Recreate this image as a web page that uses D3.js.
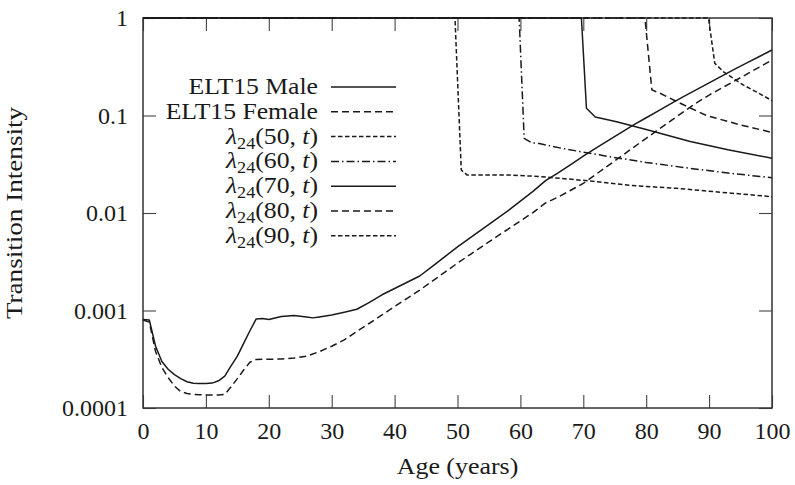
<!DOCTYPE html>
<html>
<head>
<meta charset="utf-8">
<script src="https://cdn.jsdelivr.net/npm/d3@7"></script>
<style>
  html, body { margin: 0; padding: 0; background: #fff; }
  svg { display: block; font-family: "Liberation Serif", "DejaVu Serif", serif; }
</style>
</head>
<body>
<svg id="chart" width="795" height="485"></svg>
<script>
// ---------------- data ----------------
const xTicks = [0, 10, 20, 30, 40, 50, 60, 70, 80, 90, 100];
const yTicks = [0.0001, 0.001, 0.01, 0.1, 1];
const yTickLabels = ["0.0001", "0.001", "0.01", "0.1", "1"];

const maleAges = [0,1,2,3,4,5,6,7,8,9,10,11,12,13,14,15,16,17,18,19,20,22,24,26,27,28,30,32,34,36,38,40,42,44,46,48,50,52,54,56,58,60,62,64,66,68,70,72,74,76,78,80,82,84,86,88,90,92,94,96,98,100];
const maleVals = [0.00081,0.00080,0.00043,0.00030,0.00025,0.00022,0.000200,0.000186,0.000179,0.000178,0.000178,0.000180,0.000190,0.000212,0.00027,0.00034,0.00046,0.00062,0.00082,0.00083,0.00081,0.00087,0.00089,0.00086,0.00084,0.00086,0.00090,0.00096,0.00103,0.00121,0.00145,0.00168,0.00195,0.00226,0.00284,0.00357,0.0045,0.00557,0.00688,0.0085,0.0105,0.01325,0.01665,0.0215,0.0258,0.0314,0.0383,0.0463,0.0556,0.0667,0.080,0.0948,0.1124,0.133,0.157,0.184,0.216,0.253,0.297,0.346,0.403,0.47];

const femaleAges = [0,1,2,3,4,5,6,7,8,9,10,11,12,13,14,15,16,17,18,20,22,24,26,28,30,32,34,36,38,40,42,44,46,48,50,52,54,56,58,60,62,64,66,68,70,72,74,76,78,80,82,84,86,88,90,92,94,96,98,100];
const femaleVals = [0.00080,0.00076,0.00038,0.00026,0.000205,0.000168,0.000147,0.000141,0.000138,0.000137,0.000136,0.000136,0.000136,0.000138,0.000165,0.000200,0.000245,0.000295,0.000315,0.000316,0.000318,0.000325,0.000340,0.000378,0.00043,0.00050,0.00061,0.00074,0.00090,0.00110,0.00133,0.00162,0.00200,0.00248,0.00306,0.00375,0.00458,0.0056,0.0068,0.0083,0.0101,0.0127,0.01455,0.0171,0.0201,0.0249,0.0308,0.0381,0.0472,0.0584,0.0722,0.089,0.1097,0.135,0.162,0.191,0.225,0.266,0.314,0.37];

const lam50Ages = [0, 49.6, 50.6, 51.5, 55, 58.3, 63, 71.1, 77.4, 84.8, 92, 100];
const lam50Vals = [1, 1, 0.0276, 0.0246, 0.0246, 0.0245, 0.0237, 0.0213, 0.0192, 0.0179, 0.0163, 0.0147];

const lam60Ages = [0, 59.8, 60.6, 61.8, 63, 67, 74.2, 80, 87, 93, 100];
const lam60Vals = [1, 1, 0.0584, 0.0526, 0.0515, 0.0455, 0.0378, 0.0330, 0.0287, 0.0257, 0.0230];

const lam70Ages = [0, 69.7, 70.5, 71.9, 75.3, 80, 87, 93, 100];
const lam70Vals = [1, 1, 0.1186, 0.0965, 0.0864, 0.0720, 0.0540, 0.0445, 0.0364];

const lam80Ages = [0, 79.8, 80.9, 82.2, 86, 89.6, 91.2, 95, 100];
const lam80Vals = [1, 1, 0.183, 0.169, 0.128, 0.100, 0.0935, 0.080, 0.0670];

const lam90Ages = [0, 89.9, 90.9, 92.3, 95.4, 98, 100];
const lam90Vals = [1, 1, 0.343, 0.280, 0.206, 0.168, 0.142];

const legendLabels = ["ELT15 Male", "ELT15 Female", "50", "60", "70", "80", "90"];

// ---------------- chart ----------------
const svg = d3.select("#chart");
const ink = "#1a1a1a";
const fontSize = 24;
const stretch = 1.07;   // Computer-Modern-like wider letterforms

const x = d3.scaleLinear().domain([0, 100]).range([143, 772]);
const y = d3.scaleLog().domain([0.0001, 1]).range([408, 18]);

const zip = (a, v) => a.map((d, i) => ({ age: d, v: v[i] }));
const series = [
  { name: "male",   data: zip(maleAges, maleVals),     dash: null },
  { name: "female", data: zip(femaleAges, femaleVals), dash: "7,4" },
  { name: "l50",    data: zip(lam50Ages, lam50Vals),   dash: "4.5,2.5" },
  { name: "l60",    data: zip(lam60Ages, lam60Vals),   dash: "8,3,1.5,3" },
  { name: "l70",    data: zip(lam70Ages, lam70Vals),   dash: null },
  { name: "l80",    data: zip(lam80Ages, lam80Vals),   dash: "7,4" },
  { name: "l90",    data: zip(lam90Ages, lam90Vals),   dash: "4.5,2.5" }
];

// axes (ticks pointing inward, all four sides)
const tickCol = "#444";
function styleAxis(g) {
  g.select(".domain").remove();
  g.attr("font-family", null).attr("font-size", null);
  g.selectAll(".tick line").attr("stroke", tickCol).attr("stroke-width", 1.1);
  g.selectAll(".tick text").attr("fill", ink).style("font-size", fontSize + "px")
    .style("font-family", '"Liberation Serif", serif');
}

svg.append("g").attr("transform", "translate(0,408)")
  .call(d3.axisBottom(x).tickValues(xTicks).tickFormat(d3.format("d")).tickSize(-13).tickPadding(14))
  .call(styleAxis);
svg.append("g").attr("transform", "translate(0,18)")
  .call(d3.axisTop(x).tickValues(xTicks).tickFormat("").tickSize(-13))
  .call(styleAxis);
svg.append("g").attr("transform", "translate(143,0)")
  .call(d3.axisLeft(y).tickValues(yTicks).tickFormat((d, i) => yTickLabels[i]).tickSize(-13).tickPadding(15))
  .call(styleAxis);
svg.append("g").attr("transform", "translate(772,0)")
  .call(d3.axisRight(y).tickValues(yTicks).tickFormat("").tickSize(-13))
  .call(styleAxis);

// frame
svg.append("rect")
  .attr("x", x(0)).attr("y", y(1))
  .attr("width", x(100) - x(0)).attr("height", y(0.0001) - y(1))
  .attr("fill", "none").attr("stroke", "#333").attr("stroke-width", 1.5);

// lines
const line = d3.line().x(d => x(d.age)).y(d => y(d.v));
svg.append("g").selectAll("path").data(series).join("path")
  .attr("d", d => line(d.data))
  .attr("fill", "none")
  .attr("stroke", ink)
  .attr("stroke-width", 1.5)
  .attr("stroke-linejoin", "round")
  .attr("stroke-dasharray", d => d.dash);

// legend
const legend = svg.append("g");
const legX = 318, lineX0 = 331, lineX1 = 396, legY0 = 87, legStep = 24.8;
series.forEach((s, i) => {
  const yy = legY0 + i * legStep;
  legend.append("line")
    .attr("x1", lineX0).attr("x2", lineX1).attr("y1", yy).attr("y2", yy)
    .attr("stroke", ink).attr("stroke-width", 1.5)
    .attr("stroke-dasharray", s.dash);
  const t = legend.append("g")
    .attr("transform", `translate(${legX},${yy + 7}) scale(${stretch},1)`)
    .append("text")
    .attr("text-anchor", "end")
    .attr("fill", ink)
    .style("font-size", fontSize + "px");
  if (i < 2) {
    t.text(legendLabels[i]);
  } else {
    t.append("tspan").style("font-style", "italic").text("λ");
    t.append("tspan").attr("dy", 5).style("font-size", "17px").text("24");
    t.append("tspan").attr("dy", -5).text("(" + legendLabels[i] + ", ");
    t.append("tspan").style("font-style", "italic").text("t");
    t.append("tspan").text(")");
  }
});

// axis titles
svg.append("g")
  .attr("transform", `translate(${(x(0) + x(100)) / 2},474) scale(1.08,1)`)
  .append("text")
  .attr("text-anchor", "middle").attr("fill", ink)
  .style("font-size", fontSize + "px")
  .text("Age (years)");
svg.append("g")
  .attr("transform", `translate(22,${(y(1) + y(0.0001)) / 2}) rotate(-90) scale(1.13,1)`)
  .append("text")
  .attr("text-anchor", "middle").attr("fill", ink)
  .style("font-size", fontSize + "px")
  .text("Transition Intensity");
</script>
</body>
</html>
